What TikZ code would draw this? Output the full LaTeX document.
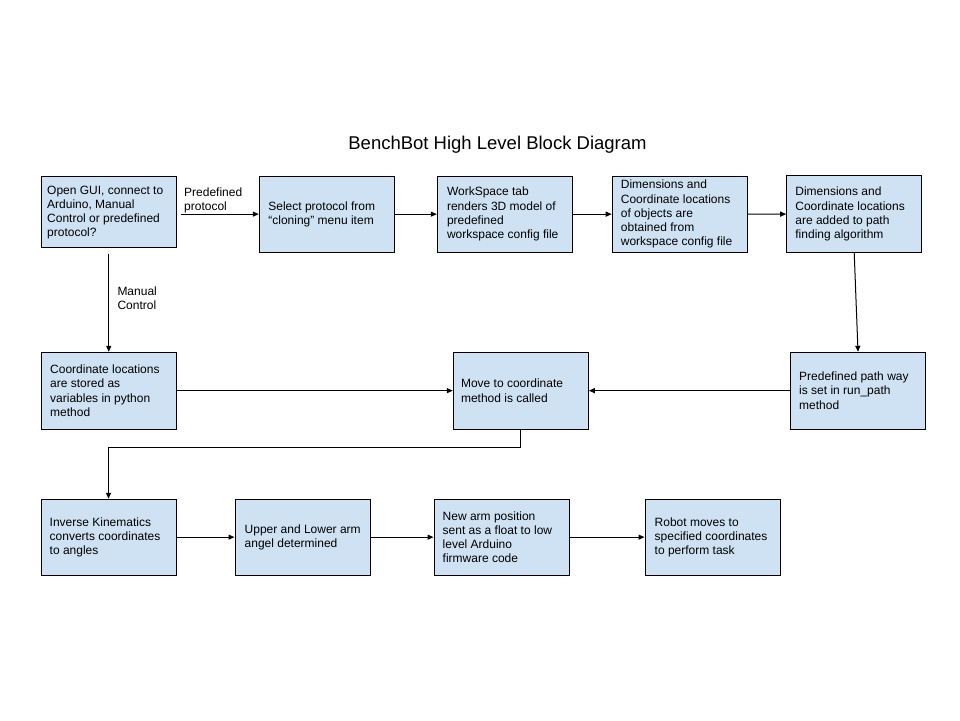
\documentclass[tikz,border=0pt]{standalone}
\usepackage{fontspec}
\setmainfont{Liberation Sans}
\usetikzlibrary{arrows.meta,calc}
\definecolor{boxblue}{HTML}{CFE2F3}
\begin{document}
\begin{tikzpicture}[x=1pt,y=-1pt,
  box/.style={draw=black, fill=boxblue, line width=1pt, minimum width=135pt, minimum height=76.3pt, inner sep=0pt},
  txt/.style={anchor=west, align=left, inner sep=0pt, font=\fontsize{12}{14.2}\selectfont, text=black},
  arr/.style={line width=1pt, -{Triangle[length=6pt,width=5pt]}}
]
\useasboundingbox (0,0) rectangle (960,720);
\fill[white] (0,0) rectangle (960,720);

\node[font=\fontsize{18.5}{22}\selectfont, inner sep=0pt] (title) at (497.5,145) {BenchBot High Level Block Diagram};

% row 1
\node[box, minimum width=134.5pt, minimum height=71.3pt] (a) at (108.75,211.65) {};
\node[txt] (ta) at ([xshift=6pt,yshift=-1pt]a.west) {Open GUI, connect to\\Arduino, Manual\\Control or predefined\\protocol?};
\node[box] (b) at (326.8,214.15) {};
\node[txt] (tb) at ([xshift=9.4pt]b.west) {Select protocol from\\``cloning'' menu item};
\node[box, minimum width=135.4pt] (c) at (505,214.15) {};
\node[txt] (tc) at ([xshift=10pt]c.west) {WorkSpace tab\\renders 3D model of\\predefined\\workspace config file};
\node[box] (d) at (679.7,214.15) {};
\node[txt] (td) at ([xshift=9pt]d.west) {Dimensions and\\Coordinate locations\\of objects are\\obtained from\\workspace config file};
\node[box] (e) at (854.2,214.1) {};
\node[txt] (te) at ([xshift=9pt]e.west) {Dimensions and\\Coordinate locations\\are added to path\\finding algorithm};

% row 2
\node[box, minimum height=76.7pt] (f) at (109,390.65) {};
\node[txt] (tf) at ([xshift=9pt]f.west) {Coordinate locations\\are stored as\\variables in python\\method};
\node[box, minimum height=76.7pt] (g) at (520.8,390.65) {};
\node[txt] (tg) at ([xshift=8pt]g.west) {Move to coordinate\\method is called};
\node[box, minimum height=76.7pt] (h) at (858,390.65) {};
\node[txt] (th) at ([xshift=9pt]h.west) {Predefined path way\\is set in run\_path\\method};

% row 3
\node[box, minimum height=75.7pt] (i) at (108.5,537.15) {};
\node[txt] (ti) at ([xshift=9pt]i.west) {Inverse Kinematics\\converts coordinates\\to angles};
\node[box, minimum height=75.7pt] (j) at (302.5,537.15) {};
\node[txt] (tj) at ([xshift=10pt]j.west) {Upper and Lower arm\\angel determined};
\node[box, minimum height=75.7pt] (k) at (501.5,537.15) {};
\node[txt] (tk) at ([xshift=9pt]k.west) {New arm position\\sent as a float to low\\level Arduino\\firmware code};
\node[box, minimum height=75.7pt] (l) at (712.5,537.15) {};
\node[txt] (tl) at ([xshift=10pt]l.west) {Robot moves to\\specified coordinates\\to perform task};

% labels
\node[txt] (lp) at (184,200.5) {Predefined\\protocol};
\node[txt] (lm) at (117.3,298) {Manual\\Control};

% connectors
\coordinate (abstart) at ($(a.east|-b.west)+(4,0)$);
\coordinate (afstart) at ($(a.south)+(0,5.7)$);
\draw[arr] (abstart) -- (b.west);
\draw[arr] (afstart) -- (afstart|-f.north);
\draw[arr] (b.east) -- (c.west);
\draw[arr] (c.east) -- (d.west);
\draw[arr] (d.east) -- (e.west);
\draw[arr] (e.south) -- (h.north);
\draw[arr] (f.east) -- (g.west);
\draw[arr] (h.west) -- (g.east);
\draw[arr] (g.south) -- ++(0,18.3) -| (i.north);
\draw[arr] (i.east) -- (j.west);
\draw[arr] (j.east) -- (k.west);
\draw[arr] (k.east) -- (l.west);
\end{tikzpicture}
\end{document}
